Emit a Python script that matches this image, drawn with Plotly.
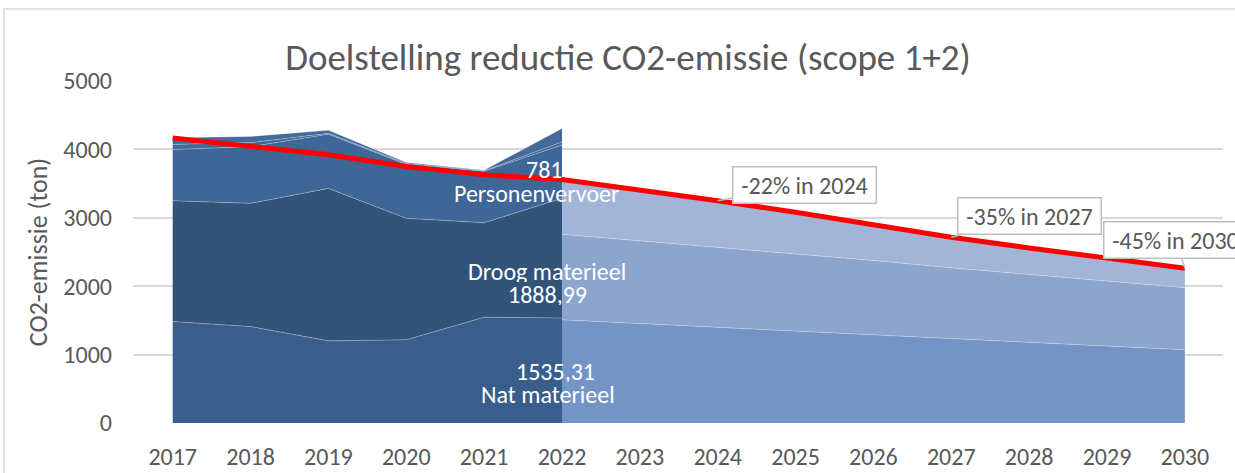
import plotly.graph_objects as go

# ---------------- data ----------------
years_hist = [2017, 2018, 2019, 2020, 2021, 2022]
nat_hist = [1483, 1410, 1201, 1216, 1547, 1535]
droog_hist = [1766, 1801, 2229, 1776, 1381, 1749]
pers_hist = [750, 829, 792, 788, 752, 781]
overig1_hist = [74, 60, 13, 15, 8, 45]
overig2_hist = [98, 90, 45, 15, 9, 195]

years_fut = [2022, 2023, 2024, 2025, 2026, 2027, 2028, 2029, 2030]
nat_fut = [1508, 1452, 1396, 1342, 1284, 1232, 1178, 1124, 1070]
droog_fut = [1250, 1210, 1171, 1129, 1092, 1036, 994, 951, 909]
pers_fut = [802, 748, 683, 609, 519, 447, 388, 335, 283]

years_all = list(range(2017, 2031))
target = [4165, 4040, 3923, 3750, 3628, 3560, 3410, 3250, 3080, 2895, 2715, 2560, 2410, 2262]

tick_labels = [str(y) for y in years_all]
callouts = [(2024, "-22% in 2024"), (2027, "-35% in 2027"), (2030, "-45% in 2030")]

FONT = "Carlito, Calibri, 'Liberation Sans', Arial, sans-serif"
GREY = "#595959"
SEP = "rgba(255,255,255,0.35)"

fig = go.Figure()

hist_layers = [
    ("Nat materieel", nat_hist, "#3A5E8C"),
    ("Droog materieel", droog_hist, "#325479"),
    ("Personenvervoer", pers_hist, "#3E6696"),
    ("Overig 1", overig1_hist, "#42699A"),
    ("Overig 2", overig2_hist, "#44699B"),
]
for name, vals, col in hist_layers:
    fig.add_trace(go.Scatter(
        x=years_hist, y=vals, name=name, stackgroup="hist", mode="lines",
        line=dict(width=0.8, color=SEP), fillcolor=col, showlegend=False))

fut_layers = [
    ("Nat materieel (doel)", nat_fut, "#7394C5"),
    ("Droog materieel (doel)", droog_fut, "#8BA5CD"),
    ("Personenvervoer (doel)", pers_fut, "#A3B5D6"),
]
for name, vals, col in fut_layers:
    fig.add_trace(go.Scatter(
        x=years_fut, y=vals, name=name, stackgroup="fut", mode="lines",
        line=dict(width=0.8, color=SEP), fillcolor=col, showlegend=False))

fig.add_trace(go.Scatter(
    x=years_all, y=target, name="Doelstelling", mode="lines",
    line=dict(color="#FF0000", width=5), showlegend=False))

annotations = []
# series labels (white text inside the areas)
label_specs = [
    ("781", 2021.78, 3705),
    ("Personenvervoer", 2021.67, 3358),
    ("Droog materieel", 2021.81, 2213),
    ("1888,99", 2021.82, 1881),
    ("1535,31", 2021.92, 751),
    ("Nat materieel", 2021.82, 419),
]
for txt, xv, yv in label_specs:
    annotations.append(dict(
        x=xv, y=yv, xref="x", yref="y", text=txt, showarrow=False,
        font=dict(family=FONT, size=24, color="white"),
        xanchor="center", yanchor="middle", height=21))

offsets = {2024: (87, -16), 2027: (78, -21), 2030: (-9, -28)}
for yr, txt in callouts:
    ax, ay = offsets[yr]
    annotations.append(dict(
        x=yr, y=target[years_all.index(yr)], xref="x", yref="y", text=txt,
        showarrow=True, arrowhead=0, arrowwidth=1.5, arrowcolor="#BFBFBF",
        ax=ax, ay=ay, standoff=0,
        font=dict(family=FONT, size=24, color=GREY),
        bgcolor="white", bordercolor="#BFBFBF", borderwidth=1.5, borderpad=4,
        width=134, height=27))

fig.update_layout(
    width=1235, height=473,
    margin=dict(l=133, r=12, t=81, b=50),
    paper_bgcolor="white", plot_bgcolor="white",
    title=dict(text="Doelstelling reductie CO2-emissie (scope 1+2)",
               x=0.5085, xref="container", xanchor="center",
               y=1 - 57 / 473, yref="container", yanchor="middle",
               font=dict(family=FONT, size=37, color=GREY)),
    annotations=annotations,
    shapes=[dict(type="rect", xref="paper", yref="paper",
                 x0=(4 - 133) / 1090, x1=1.02, y0=-0.2, y1=(423 - 9) / 342,
                 line=dict(color="#D9D9D9", width=1.5), fillcolor="rgba(0,0,0,0)",
                 layer="below")],
    xaxis=dict(range=[2016.49, 2030.49], tickvals=years_all, ticktext=tick_labels,
               showgrid=False, zeroline=False, showline=False, ticks="",
               ticklabelstandoff=17, automargin=False,
               tickfont=dict(family=FONT, size=24, color=GREY)),
    yaxis=dict(range=[0, 5000], dtick=1000, showgrid=True, gridcolor="#D9D9D9",
               gridwidth=1.5, zeroline=False, showline=False, ticks="",
               ticklabelstandoff=20, automargin=False,
               tickfont=dict(family=FONT, size=24, color=GREY),
               title=dict(text="CO2-emissie (ton)", standoff=8,
                          font=dict(family=FONT, size=26, color=GREY))),
)

fig.write_html("out.html", config={"displayModeBar": False},
               post_script="document.body.style.margin='0';document.body.style.overflow='hidden';")
